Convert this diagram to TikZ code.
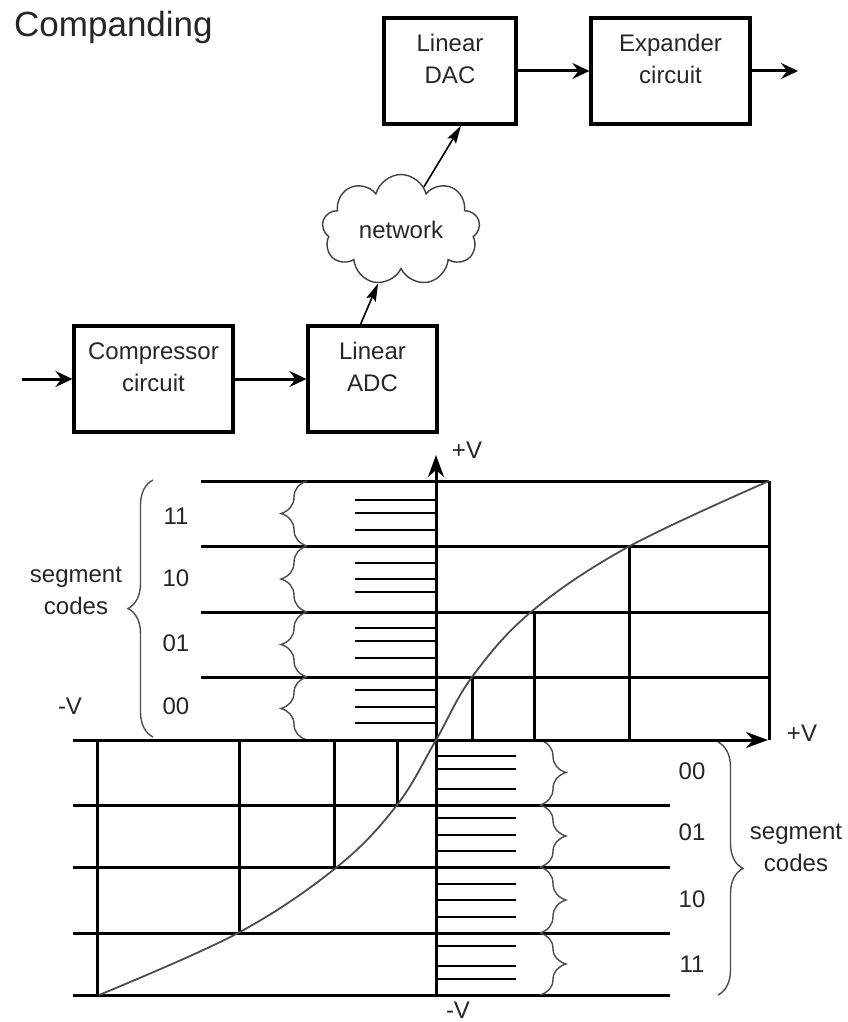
\documentclass[tikz,border=0pt]{standalone}
\usepackage{fontspec}
\setmainfont{Liberation Sans}
\usetikzlibrary{shapes.symbols,arrows.meta,decorations.pathreplacing}

\begin{document}
\begin{tikzpicture}[x=1pt,y=-1pt]
  \tikzstyle{every node}=[font=\fontsize{24}{32}\selectfont,inner sep=0pt,text=black!85]
  \tikzstyle{block}=[draw,line width=3.2pt,minimum height=106pt]
  \tikzstyle{blocktxt}=[align=center,yshift=12pt]
  \tikzstyle{arr}=[line width=3pt,-{Stealth[length=17pt,width=16pt,inset=6pt]}]
  \tikzstyle{thinarr}=[line width=1.6pt,-{Stealth[length=18pt,width=10pt,inset=3pt]}]
  \tikzstyle{grid}=[line width=3pt]
  \tikzstyle{tick}=[line width=2.6pt]
  \tikzstyle{axis}=[line width=3pt,-{Stealth[length=22pt,width=16pt,inset=7pt]}]
  \tikzstyle{curve}=[line width=1.8pt,black!70]
  \tikzstyle{smallbrace}=[decorate,decoration={brace,amplitude=26pt},draw=black!70,line width=1.4pt]
  \tikzstyle{bigbrace}=[decorate,decoration={brace,amplitude=25pt},draw=black!70,line width=1.4pt]
  \def\ax{436} % x of the vertical axis
  \def\ay{740} % y of the horizontal axis
  \useasboundingbox (0,0) rectangle (847,1022);
  % block diagram
  \node[anchor=base west,font=\fontsize{35}{42}\selectfont] (title) at (14,37) {Companding};
  \node[block,minimum width=159pt] (cmp) at (153.5,379) {};
  \node[blocktxt] (cmp-t) at (cmp) {Compressor\\circuit};
  \node[block,minimum width=129pt] (adc) at (372.5,379) {};
  \node[blocktxt] (adc-t) at (adc) {Linear\\ADC};
  \node[block,minimum width=132pt] (dac) at (450,71) {};
  \node[blocktxt] (dac-t) at (dac) {Linear\\DAC};
  \node[block,minimum width=159pt] (exp) at (670.5,71) {};
  \node[blocktxt] (exp-t) at (exp) {Expander\\circuit};
  \node[cloud,draw=black!75,line width=1.4pt,cloud puffs=9,aspect=1.4,
        minimum width=158pt,minimum height=110pt] (net) at (401,230) {network};
  \coordinate (in) at (22,379);
  \coordinate (out) at (798,71);
  \draw[arr] (in) -- (cmp);
  \draw[arr] (cmp) -- (adc);
  \draw[thinarr] ([xshift=-12pt]adc.north) -- (net);
  \draw[thinarr] (net.62) -- ([xshift=11pt]dac.south);
  \draw[arr] (dac) -- (exp);
  \draw[arr] (exp) -- (out);
  % upper half of the graph
  \draw[grid] (201,481) -- (769,481) (201,546) -- (769,546)
              (201,612) -- (769,612) (201,677) -- (769,677);
  \draw[grid] (769,481) -- (769,\ay) (629,546) -- (629,\ay)
              (534,612) -- (534,\ay) (472,677) -- (472,\ay);
  \draw[tick] (355,500) -- (\ax,500) (355,513) -- (\ax,513) (355,530) -- (\ax,530)
              (355,563) -- (\ax,563) (355,579) -- (\ax,579) (355,592) -- (\ax,592)
              (355,628) -- (\ax,628) (355,641) -- (\ax,641) (355,658) -- (\ax,658)
              (355,690) -- (\ax,690) (355,707) -- (\ax,707) (355,723) -- (\ax,723);
  \draw[smallbrace] (307,546) -- (307,481);
  \draw[smallbrace] (307,612) -- (307,546);
  \draw[smallbrace] (307,677) -- (307,612);
  \draw[smallbrace] (307,\ay) -- (307,677);
  \draw[bigbrace] (153,737) -- (153,480);
  \node (u11) at (176,516) {11};
  \node (u10) at (176,578) {10};
  \node (u01) at (176,643) {01};
  \node (u00) at (176,706) {00};
  \node[align=center] (useg) at (76,591) {segment\\codes};
  \node (mvx) at (70,706) {-V};
  % lower half of the graph
  \draw[grid] (73,805) -- (670,805) (73,867) -- (670,867)
              (73,933) -- (670,933) (73,995) -- (670,995);
  \draw[grid] (97,\ay) -- (97,995) (239,\ay) -- (239,933)
              (334,\ay) -- (334,867) (397,\ay) -- (397,805);
  \draw[tick] (\ax,756) -- (516,756) (\ax,769) -- (516,769) (\ax,789) -- (516,789)
              (\ax,818) -- (516,818) (\ax,835) -- (516,835) (\ax,851) -- (516,851)
              (\ax,884) -- (516,884) (\ax,900) -- (516,900) (\ax,917) -- (516,917)
              (\ax,946) -- (516,946) (\ax,966) -- (516,966) (\ax,979) -- (516,979);
  \draw[smallbrace] (540,\ay) -- (540,805);
  \draw[smallbrace] (540,805) -- (540,867);
  \draw[smallbrace] (540,867) -- (540,933);
  \draw[smallbrace] (540,933) -- (540,995);
  \draw[bigbrace] (718,742) -- (718,995);
  \node (l00) at (692,771) {00};
  \node (l01) at (692,832) {01};
  \node (l10) at (692,899) {10};
  \node (l11) at (692,964) {11};
  \node[align=center] (lseg) at (796,848) {segment\\codes};
  % axes and curve
  \draw[axis] (73,\ay) -- (768,\ay);
  \draw[axis] (\ax,995) -- (\ax,455);
  \node (pvx) at (802,733) {+V};
  \node (pvy) at (467,450) {+V};
  \node (mvy) at (458,1010) {-V};
  \draw[curve] plot[smooth,tension=0.6] coordinates {(99,995) (238,933) (337,867)
               (397,805) (\ax,\ay) (472,677) (531,612) (628,547) (769,481)};
\end{tikzpicture}
\end{document}
